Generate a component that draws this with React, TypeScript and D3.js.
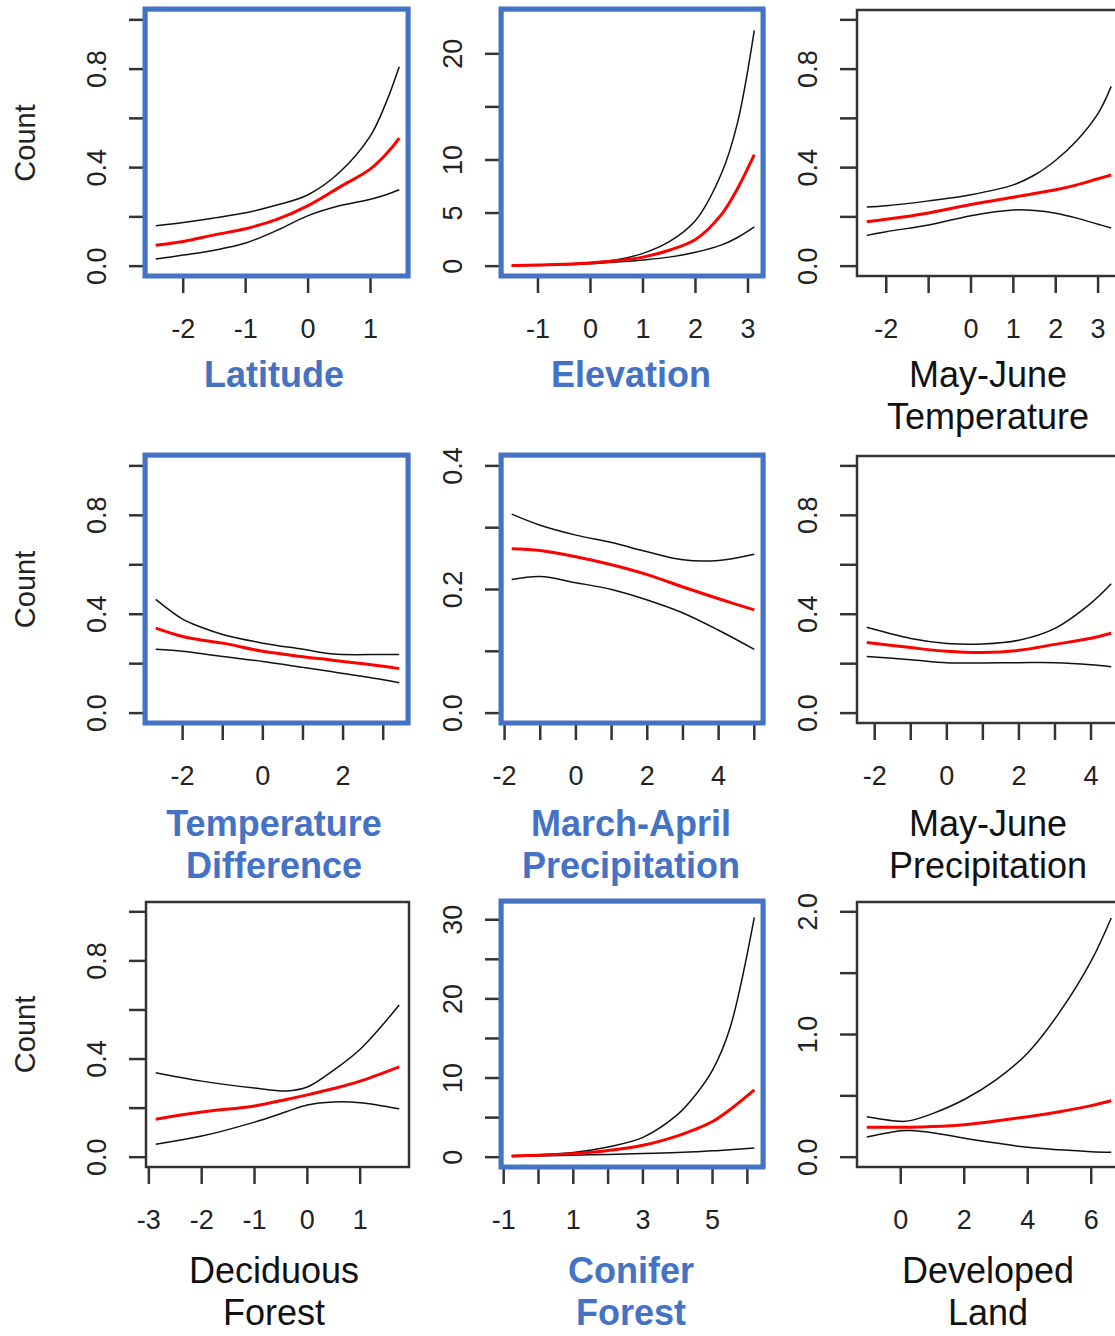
import * as d3 from "d3";

const FONT = "'Liberation Sans', Arial, sans-serif";
const BLUE = "#4472C4";

// Latitude
const latX = [-2.44, -2, -1.5, -1, -0.5, 0, 0.5, 1, 1.25, 1.46];
const latMid = [0.085, 0.1, 0.127, 0.152, 0.19, 0.246, 0.32, 0.395, 0.455, 0.52];
const latHi = [0.164, 0.177, 0.196, 0.217, 0.248, 0.29, 0.38, 0.53, 0.665, 0.81];
const latLo = [0.029, 0.045, 0.065, 0.094, 0.145, 0.205, 0.245, 0.272, 0.29, 0.31];

// Elevation
const elvX = [-1.5, -1, -0.5, 0, 0.5, 1, 1.5, 2, 2.5, 2.8, 3.12];
const elvMid = [0.05, 0.1, 0.18, 0.3, 0.5, 0.85, 1.5, 2.5, 4.9, 7.3, 10.5];
const elvHi = [0.07, 0.12, 0.2, 0.35, 0.6, 1.2, 2.3, 4.3, 8.8, 13.5, 22.2];
const elvLo = [0.03, 0.07, 0.13, 0.22, 0.38, 0.58, 0.85, 1.3, 2.0, 2.7, 3.7];

// May-June Temperature
const mjtX = [-2.46, -2, -1, 0, 1, 1.5, 2, 2.5, 3, 3.31];
const mjtMid = [0.18, 0.19, 0.216, 0.25, 0.28, 0.295, 0.31, 0.33, 0.355, 0.37];
const mjtHi = [0.24, 0.245, 0.265, 0.29, 0.33, 0.37, 0.43, 0.51, 0.62, 0.73];
const mjtLo = [0.125, 0.14, 0.167, 0.205, 0.228, 0.226, 0.215, 0.195, 0.17, 0.155];

// Temperature Difference
const tdX = [-2.67, -2, -1.5, -1, 0, 1, 1.7, 2, 3, 3.4];
const tdMid = [0.344, 0.31, 0.295, 0.283, 0.25, 0.228, 0.215, 0.209, 0.19, 0.18];
const tdHi = [0.46, 0.38, 0.345, 0.318, 0.283, 0.258, 0.24, 0.237, 0.237, 0.237];
const tdLo = [0.258, 0.25, 0.24, 0.229, 0.209, 0.185, 0.168, 0.16, 0.135, 0.123];

// March-April Precipitation
const mapX = [-1.8, -1, 0, 1, 2, 3, 4, 5];
const mapMid = [0.266, 0.263, 0.253, 0.24, 0.224, 0.204, 0.185, 0.167];
const mapHi = [0.322, 0.304, 0.288, 0.276, 0.261, 0.248, 0.247, 0.257];
const mapLo = [0.216, 0.221, 0.211, 0.2, 0.183, 0.162, 0.134, 0.103];

// May-June Precipitation
const mjpX = [-2.22, -1, 0, 1, 2, 3, 4, 4.56];
const mjpMid = [0.286, 0.265, 0.25, 0.245, 0.254, 0.278, 0.303, 0.323];
const mjpHi = [0.347, 0.302, 0.282, 0.28, 0.295, 0.343, 0.445, 0.523];
const mjpLo = [0.229, 0.216, 0.204, 0.203, 0.204, 0.204, 0.196, 0.188];

// Deciduous Forest
const decX = [-2.87, -2, -1, -0.4, 0, 0.5, 1, 1.74];
const decMid = [0.155, 0.184, 0.209, 0.235, 0.254, 0.28, 0.31, 0.368];
const decHi = [0.344, 0.31, 0.282, 0.27, 0.286, 0.355, 0.44, 0.62];
const decLo = [0.053, 0.086, 0.143, 0.185, 0.213, 0.225, 0.222, 0.197];

// Conifer Forest
const conX = [-0.77, 0, 1, 2, 3, 4, 4.5, 5, 5.5, 6.2];
const conMid = [0.15, 0.25, 0.45, 0.85, 1.5, 2.7, 3.5, 4.5, 6.0, 8.5];
const conHi = [0.18, 0.3, 0.6, 1.3, 2.5, 5.4, 7.8, 11.0, 16.3, 30.3];
const conLo = [0.1, 0.15, 0.25, 0.35, 0.45, 0.6, 0.7, 0.8, 0.95, 1.15];

// Developed Land
const devX = [-1.07, 0, 0.3, 1, 2, 3, 4, 5, 6, 6.63];
const devMid = [0.245, 0.245, 0.245, 0.25, 0.265, 0.295, 0.33, 0.37, 0.42, 0.46];
const devHi = [0.33, 0.292, 0.298, 0.355, 0.47, 0.63, 0.85, 1.18, 1.6, 1.95];
const devLo = [0.165, 0.215, 0.218, 0.2, 0.155, 0.115, 0.08, 0.06, 0.045, 0.04];

const unitTicks = [0, 0.2, 0.4, 0.6, 0.8, 1.0];
const unitLabels = [0, 0.4, 0.8];

const panels = [
  { title: ["Latitude"], hl: true, x: latX, mid: latMid, hi: latHi, lo: latLo, xlim: [-2.44, 1.46], ylim: [0, 1], xTicks: [-2, -1, 0, 1], xLab: [-2, -1, 0, 1], yTicks: unitTicks, yLab: unitLabels, fmt: ".1f" },
  { title: ["Elevation"], hl: true, x: elvX, mid: elvMid, hi: elvHi, lo: elvLo, xlim: [-1.5, 3.12], ylim: [0, 23.2], xTicks: [-1, 0, 1, 2, 3], xLab: [-1, 0, 1, 2, 3], yTicks: [0, 5, 10, 15, 20], yLab: [0, 5, 10, 20], fmt: "d" },
  { title: ["May-June", "Temperature"], hl: false, x: mjtX, mid: mjtMid, hi: mjtHi, lo: mjtLo, xlim: [-2.46, 3.31], ylim: [0, 1], xTicks: [-2, -1, 0, 1, 2, 3], xLab: [-2, 0, 1, 2, 3], yTicks: unitTicks, yLab: unitLabels, fmt: ".1f" },
  { title: ["Temperature", "Difference"], hl: true, x: tdX, mid: tdMid, hi: tdHi, lo: tdLo, xlim: [-2.67, 3.4], ylim: [0, 1], xTicks: [-2, -1, 0, 1, 2, 3], xLab: [-2, 0, 2], yTicks: unitTicks, yLab: unitLabels, fmt: ".1f" },
  { title: ["March-April", "Precipitation"], hl: true, x: mapX, mid: mapMid, hi: mapHi, lo: mapLo, xlim: [-1.8, 5.0], ylim: [0, 0.4], xTicks: [-2, -1, 0, 1, 2, 3, 4, 5], xLab: [-2, 0, 2, 4], yTicks: [0, 0.1, 0.2, 0.3, 0.4], yLab: [0, 0.2, 0.4], fmt: ".1f" },
  { title: ["May-June", "Precipitation"], hl: false, x: mjpX, mid: mjpMid, hi: mjpHi, lo: mjpLo, xlim: [-2.22, 4.56], ylim: [0, 1], xTicks: [-2, -1, 0, 1, 2, 3, 4], xLab: [-2, 0, 2, 4], yTicks: unitTicks, yLab: unitLabels, fmt: ".1f" },
  { title: ["Deciduous", "Forest"], hl: false, x: decX, mid: decMid, hi: decHi, lo: decLo, xlim: [-2.87, 1.74], ylim: [0, 1], xTicks: [-3, -2, -1, 0, 1], xLab: [-3, -2, -1, 0, 1], yTicks: unitTicks, yLab: unitLabels, fmt: ".1f" },
  { title: ["Conifer", "Forest"], hl: true, x: conX, mid: conMid, hi: conHi, lo: conLo, xlim: [-0.77, 6.2], ylim: [0, 31], xTicks: [-1, 0, 1, 2, 3, 4, 5, 6], xLab: [-1, 1, 3, 5], yTicks: [0, 5, 10, 15, 20, 25, 30], yLab: [0, 10, 20, 30], fmt: "d" },
  { title: ["Developed", "Land"], hl: false, x: devX, mid: devMid, hi: devHi, lo: devLo, xlim: [-1.07, 6.63], ylim: [0, 2], xTicks: [0, 2, 4, 6], xLab: [0, 2, 4, 6], yTicks: [0, 0.5, 1, 1.5, 2], yLab: [0, 1, 2], fmt: ".1f" },
];

const colX = [[146, 409], [502, 764], [857, 1121]];
const rowY = [[10, 276], [456, 723], [902, 1167]];
const titleX = [274, 631, 988];
const titleDy = [111, 113, 116];

// R-style 4% axis extension
const ext = ([a, b]: number[]) => [a - 0.04 * (b - a), b + 0.04 * (b - a)];

function Panel({ p, i }: { p: any; i: number }) {
  const col = i % 3;
  const row = Math.floor(i / 3);
  const [x0, x1] = colX[col];
  const [y0, y1] = rowY[row];
  const x = d3.scaleLinear().domain(ext(p.xlim)).range([x0, x1]);
  const y = d3.scaleLinear().domain(ext(p.ylim)).range([y1, y0]);
  const fmt = d3.format(p.fmt);
  const path = (ys: number[]) =>
    d3
      .line<number>()
      .x((_, k) => x(p.x[k]))
      .y((d) => y(d))
      .curve(d3.curveCatmullRom.alpha(0.5))(ys) || "";
  const tick = 17;
  const axisCol = "#333";

  return (
    <g>
      <path d={path(p.hi)} fill="none" stroke="#111" strokeWidth={1.5} />
      <path d={path(p.lo)} fill="none" stroke="#111" strokeWidth={1.5} />
      <path d={path(p.mid)} fill="none" stroke="#ff0000" strokeWidth={3} />
      <rect x={x0} y={y0} width={x1 - x0} height={y1 - y0} fill="none" stroke={axisCol} strokeWidth={2.5} />
      {p.xTicks.map((t: number) => (
        <line key={"xt" + t} x1={x(t)} x2={x(t)} y1={y1} y2={y1 + tick} stroke={axisCol} strokeWidth={2.5} />
      ))}
      {p.yTicks.map((t: number) => (
        <line key={"yt" + t} x1={x0 - tick} x2={x0} y1={y(t)} y2={y(t)} stroke={axisCol} strokeWidth={2.5} />
      ))}
      {p.xLab.map((t: number) => (
        <text key={"xl" + t} x={x(t)} y={y1 + 62} textAnchor="middle" fontSize={27} fill="#222" fontFamily={FONT}>
          {t}
        </text>
      ))}
      {p.yLab.map((t: number) => (
        <text
          key={"yl" + t}
          transform={`translate(${x0 - 40},${y(t)}) rotate(-90)`}
          textAnchor="middle"
          fontSize={27}
          fill="#222"
          fontFamily={FONT}
        >
          {fmt(t)}
        </text>
      ))}
      {col === 0 && (
        <text
          transform={`translate(35,${(y0 + y1) / 2}) rotate(-90)`}
          textAnchor="middle"
          fontSize={29}
          fill="#222"
          fontFamily={FONT}
        >
          Count
        </text>
      )}
      {p.hl && (
        <rect x={x0 - 1} y={y0 - 1} width={x1 - x0} height={y1 - y0 + 1} fill="none" stroke={BLUE} strokeWidth={5} />
      )}
      {p.title.map((s: string, k: number) => (
        <text
          key={s}
          x={titleX[col]}
          y={y1 + titleDy[row] + k * 42}
          textAnchor="middle"
          fontSize={36}
          fontWeight={p.hl ? "bold" : "normal"}
          fill={p.hl ? BLUE : "#111"}
          fontFamily={FONT}
        >
          {s}
        </text>
      ))}
    </g>
  );
}

export default function App() {
  return (
    <svg
      width={1115}
      height={1336}
      style={{ position: "absolute", left: 0, top: 0, background: "#fff" }}
    >
      <rect width={1115} height={1336} fill="#fff" />
      {panels.map((p, i) => (
        <Panel key={i} p={p} i={i} />
      ))}
    </svg>
  );
}
